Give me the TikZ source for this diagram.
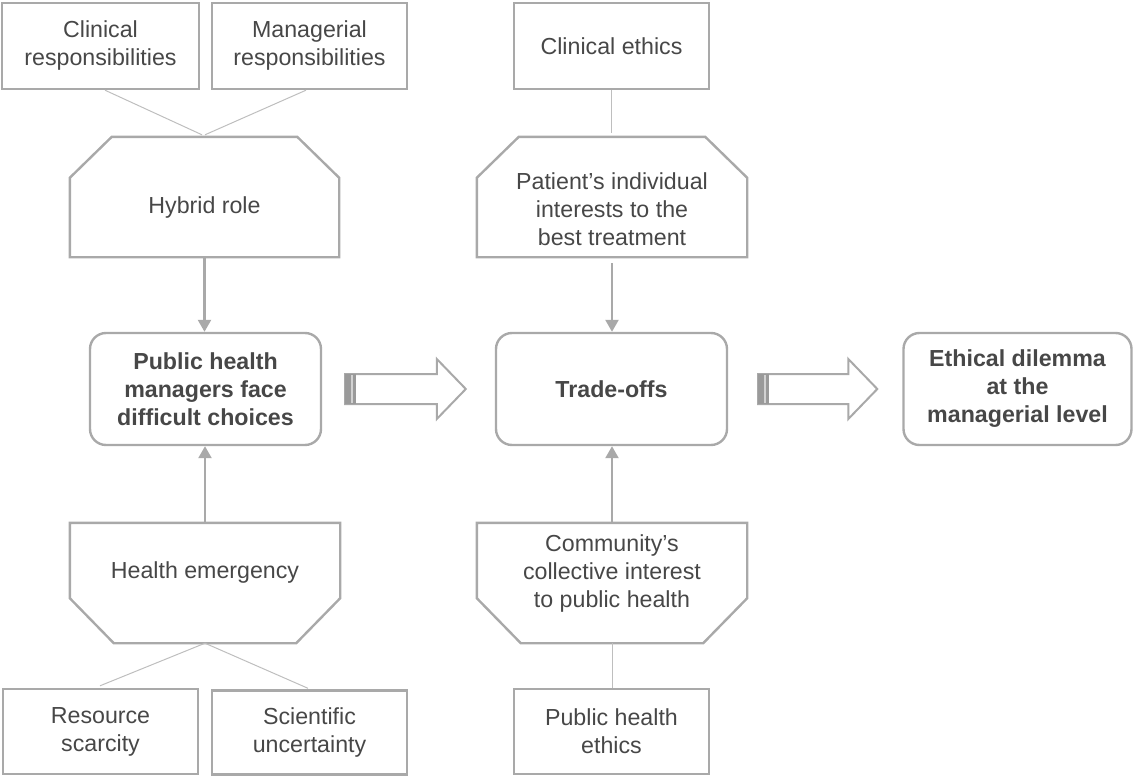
\documentclass[tikz,border=0pt]{standalone}
\usepackage{fontspec}
\setmainfont{Liberation Sans}
\usetikzlibrary{calc,arrows.meta}

\definecolor{edge}{HTML}{A9A9A9}
\definecolor{thin}{HTML}{BEBEBE}
\definecolor{ink}{HTML}{474747}
\definecolor{stripe}{HTML}{9A9A9A}
\definecolor{stripelight}{HTML}{D2D2D2}

\newcommand\diagreg{\fontsize{23.2}{28}\selectfont}
\newcommand\diagbold{\bfseries\fontsize{23.2}{28}\selectfont}

% octagon-like frame with the two upper corners cut off
\newcommand\topcut[1]{%
  \draw[outline] (#1.south west) -- ($(#1.north west)+(0,41)$) -- ($(#1.north west)+(42,0)$)
    -- ($(#1.north east)+(-42,0)$) -- ($(#1.north east)+(0,41)$) -- (#1.south east) -- cycle;}
% frame with the two lower corners cut off
\newcommand\bottomcut[1]{%
  \draw[outline] (#1.north west) -- (#1.north east) -- ($(#1.south east)+(0,-45)$)
    -- ($(#1.south east)+(-44,0)$) -- ($(#1.south west)+(44,0)$) -- ($(#1.south west)+(0,-45)$) -- cycle;}
% wide hollow arrow with a striped tail
\newcommand\blockarrow[2]{%
  \draw[outline, line width=2pt, fill=white] ($(#1)+(0,-15)$) -- ($(#2)+(-29,-15)$) -- ($(#2)+(-29,-30)$)
    -- (#2) -- ($(#2)+(-29,30)$) -- ($(#2)+(-29,15)$) -- ($(#1)+(0,15)$) -- cycle;
  \fill[stripe] ($(#1)+(0,-15)$) rectangle ($(#1)+(11,15)$);
  \fill[stripelight] ($(#1)+(6,-14)$) rectangle ($(#1)+(8,14)$);}

\begin{document}
\begin{tikzpicture}[x=1pt,y=-1pt,
  box/.style={draw=edge, line width=2.4pt, minimum width=196pt, minimum height=86pt,
    inner sep=0pt, align=center, text=ink, font=\diagreg},
  roundbox/.style={draw=edge, line width=2.4pt, rounded corners=16pt, minimum width=231pt,
    minimum height=112pt, inner sep=0pt, align=center, text=ink, font=\diagbold},
  frame/.style={minimum width=270pt, minimum height=120pt, inner sep=0pt},
  outline/.style={draw=edge, line width=2.4pt, line join=miter},
  txt/.style={align=center, text=ink, font=\diagreg, inner sep=0pt},
  link/.style={draw=thin, line width=1pt},
  flow/.style={draw=edge, line width=2.4pt, -{Triangle[width=13pt,length=12pt]}},
]
\useasboundingbox (0,0) rectangle (1133,776);

% top row
\node[box, minimum width=197pt] (cr) at (100.5,46) {Clinical\\responsibilities};
\node[box, minimum width=195pt] (mr) at (309.5,46) {Managerial\\responsibilities};
\node[box, minimum width=195pt] (ce) at (611.5,46) {Clinical ethics};

% upper chamfered frames
\node[frame, minimum width=269pt] (hyb) at (204.5,197) {};
\topcut{hyb}
\node[txt] (hybt) at (204.5,208) {Hybrid role};
\node[frame] (pat) at (612,197) {};
\topcut{pat}
\node[txt] (patt) at (612,209) {Patient’s individual\\interests to the\\best treatment};

% central row
\node[roundbox] (pub) at (205.5,389) {Public health\\managers face\\difficult choices};
\node[roundbox] (trd) at (611.5,389) {Trade-offs};
\node[roundbox, minimum width=228pt] (eth) at (1017.5,389) {Ethical dilemma\\at the\\managerial level};

% lower chamfered frames
\node[frame] (he) at (205,583) {};
\bottomcut{he}
\node[txt] (het) at (205,572) {Health emergency};
\node[frame] (com) at (612,583) {};
\bottomcut{com}
\node[txt] (comt) at (612,573) {Community’s\\collective interest\\to public health};

% bottom row
\node[box, minimum width=195pt, minimum height=85pt] (rs) at (100.5,731.5) {Resource\\scarcity};
\node[box, minimum width=195pt, minimum height=84pt] (su) at (309.5,732.5) {Scientific\\uncertainty};
\node[box, minimum width=195pt, minimum height=85pt] (phe) at (611.5,731.5) {Public health\\ethics};

% thin links
\draw[link] ($(cr.south)+(4.5,0)$) -- ($(hyb.north)+(-2.5,-2)$);
\draw[link] ($(mr.south)+(-3.5,0)$) -- ($(hyb.north)+(0.5,-2)$);
\draw[link, shorten >=4pt] (ce.south) -- (ce.south |- pat.north);
\draw[link] (com.south) -- (com.south |- phe.north);
\draw[link] (he.south) -- ($(rs.north)+(-0.5,-2)$);
\draw[link] (he.south) -- ($(su.north)+(-1.5,-1)$);

% flow arrows
\draw[flow] (hyb.south) -- (hyb.south |- pub.north);
\draw[flow] (he.north) -- (he.north |- pub.south);
\draw[flow, shorten <=6pt] (pat.south) -- (pat.south |- trd.north);
\draw[flow] (com.north) -- (com.north |- trd.south);

% block arrows between the central boxes
\coordinate (a1s) at ($(pub.east)+(23,0)$);
\coordinate (a1t) at ($(trd.west)+(-29,0)$);
\blockarrow{a1s}{a1t}
\coordinate (a2s) at ($(trd.east)+(30,0)$);
\coordinate (a2t) at ($(eth.west)+(-25,0)$);
\blockarrow{a2s}{a2t}
\end{tikzpicture}
\end{document}
